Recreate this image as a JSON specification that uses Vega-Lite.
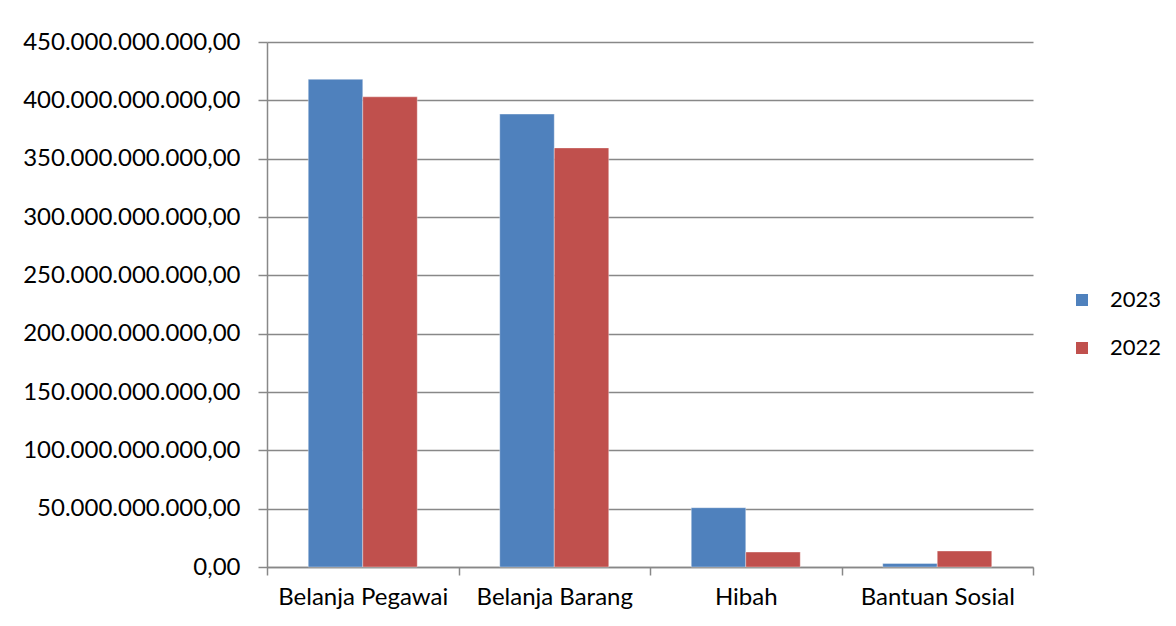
{
  "$schema": "https://vega.github.io/schema/vega-lite/v6.json",
  "width": 766,
  "height": 525,
  "autosize": {"type": "none"},
  "padding": {"left": 267, "top": 42, "right": 143, "bottom": 59},
  "background": "white",
  "config": {
    "locale": {"number": {"decimal": ",", "thousands": ".", "grouping": [3], "currency": ["Rp", ""]}},
    "view": {"stroke": null},
    "font": "Lato",
    "axis": {"labelFont": "Lato", "labelFontSize": 24, "labelLimit": 0, "labelColor": "#000000", "domainColor": "#888888", "tickColor": "#888888", "gridColor": "#888888", "domainWidth": 1.5, "tickWidth": 1.5, "gridWidth": 1.5}
  },
  "data": {
    "values": [
      {"kategori": "Belanja Pegawai", "tahun": "2023", "nilai": 418000000000},
      {"kategori": "Belanja Pegawai", "tahun": "2022", "nilai": 403000000000},
      {"kategori": "Belanja Barang", "tahun": "2023", "nilai": 388200000000},
      {"kategori": "Belanja Barang", "tahun": "2022", "nilai": 359200000000},
      {"kategori": "Hibah", "tahun": "2023", "nilai": 50800000000},
      {"kategori": "Hibah", "tahun": "2022", "nilai": 12800000000},
      {"kategori": "Bantuan Sosial", "tahun": "2023", "nilai": 3000000000},
      {"kategori": "Bantuan Sosial", "tahun": "2022", "nilai": 13700000000}
    ]
  },
  "mark": {"type": "bar", "stroke": "#ffffff", "strokeOpacity": 0.35, "strokeWidth": 1},
  "encoding": {
    "x": {
      "field": "kategori", "type": "nominal",
      "sort": ["Belanja Pegawai", "Belanja Barang", "Hibah", "Bantuan Sosial"],
      "scale": {"paddingInner": 0, "paddingOuter": 0},
      "axis": {"title": null, "labelAngle": 0, "tickBand": "extent", "tickSize": 8, "labelPadding": 10, "grid": false}
    },
    "xOffset": {"field": "tahun", "type": "nominal", "sort": ["2023", "2022"], "scale": {"paddingInner": 0, "paddingOuter": 0.757}},
    "y": {
      "field": "nilai", "type": "quantitative",
      "scale": {"domain": [0, 450000000000], "nice": false},
      "axis": {"title": null, "format": ",.2f", "values": [0, 50000000000, 100000000000, 150000000000, 200000000000, 250000000000, 300000000000, 350000000000, 400000000000, 450000000000], "tickSize": 9, "labelPadding": 18, "grid": true}
    },
    "color": {
      "field": "tahun", "type": "nominal", "sort": ["2023", "2022"],
      "scale": {"domain": ["2023", "2022"], "range": ["#4F81BD", "#C0504D"]},
      "legend": {"title": null, "orient": "none", "legendX": 804, "legendY": 247, "symbolType": "square", "symbolSize": 144, "symbolStrokeWidth": 0, "labelFontSize": 22, "labelFont": "Lato", "labelColor": "#000000", "labelOffset": 17, "rowPadding": 26}
    }
  }
}
